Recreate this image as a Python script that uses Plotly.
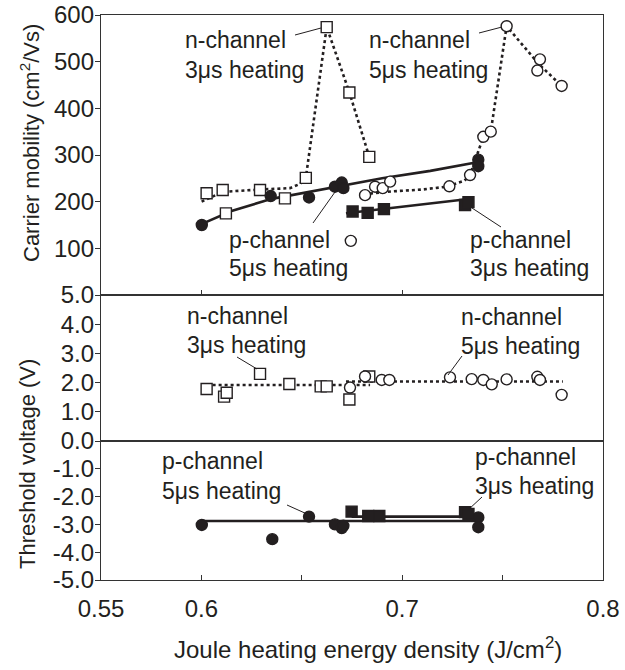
import plotly.graph_objects as go

# ---------------- data ----------------
# Joule heating energy density (J/cm2) and carrier mobility (cm2/Vs)
n3_x = [0.6026, 0.6106, 0.6122, 0.6292, 0.6416, 0.6520, 0.6624, 0.6737, 0.6836]
n3_mu = [218, 225, 175, 225, 207, 251, 574, 434, 296]
n3_fit_x = [0.6001, 0.6106, 0.6292, 0.6441, 0.6491, 0.6520, 0.6624, 0.6737, 0.6836]
n3_fit_mu = [200, 221, 226, 229, 238, 251, 574, 434, 296]

n5_x = [0.6744, 0.6815, 0.6865, 0.6903, 0.6940, 0.7235, 0.7338, 0.7404, 0.7441, 0.7520, 0.7673, 0.7686, 0.7794]
n5_mu = [116, 214, 232, 229, 243, 233, 257, 339, 350, 576, 481, 505, 448]
n5_fit_x = [0.681, 0.695, 0.710, 0.722, 0.731, 0.7338, 0.7404, 0.7441, 0.7520, 0.768, 0.7794]
n5_fit_mu = [216, 222, 226, 232, 245, 257, 339, 350, 576, 495, 448]

p5_x = [0.6002, 0.6345, 0.6536, 0.6665, 0.6699, 0.6707, 0.7379, 0.7379]
p5_mu = [150, 212, 209, 232, 241, 229, 290, 276]
p5_fit_x = [0.600, 0.615, 0.635, 0.660, 0.690, 0.714, 0.738]
p5_fit_mu = [152, 180, 206, 226, 250, 266, 285]

p3_x = [0.6753, 0.6828, 0.6909, 0.7313, 0.7330]
p3_mu = [179, 176, 184, 193, 199]
p3_fit_x = [0.672, 0.732]
p3_fit_mu = [175, 205]

# threshold voltage (V)
n3_vx = [0.6026, 0.6113, 0.6126, 0.6292, 0.6438, 0.6594, 0.6624, 0.6737, 0.6836]
n3_vth = [1.78, 1.52, 1.65, 2.30, 1.95, 1.87, 1.87, 1.42, 2.21]
n3_vfit_x = [0.6026, 0.684]
n3_vfit = [1.92, 1.92]

n5_vx = [0.6740, 0.6815, 0.6898, 0.6936, 0.7238, 0.7346, 0.7404, 0.7446, 0.7520, 0.7673, 0.7686, 0.7794]
n5_vth = [1.83, 2.21, 2.09, 2.09, 2.18, 2.12, 2.09, 1.94, 2.11, 2.20, 2.09, 1.58]
n5_vfit_x = [0.672, 0.780]
n5_vfit = [2.04, 2.04]

p5_vx = [0.6002, 0.6353, 0.6536, 0.6665, 0.6699, 0.6707, 0.7379, 0.7379]
p5_vth = [-3.02, -3.53, -2.72, -3.00, -3.13, -3.05, -2.75, -3.10]
p5_vfit_x = [0.600, 0.738]
p5_vfit = [-2.88, -2.88]

p3_vx = [0.6748, 0.6831, 0.6886, 0.7313, 0.7330]
p3_vth = [-2.54, -2.70, -2.70, -2.56, -2.62]
p3_vfit_x = [0.6748, 0.733]
p3_vfit = [-2.72, -2.72]

mu_ticks = [100, 200, 300, 400, 500, 600]
vth_top_ticks = [0, 1, 2, 3, 4, 5]
vth_top_text = ["0.0", "1.0", "2.0", "3.0", "4.0", "5.0"]
vth_bot_ticks = [-5, -4, -3, -2, -1]
vth_bot_text = ["-5.0", "-4.0", "-3.0", "-2.0", "-1.0"]
x_ticks = [0.55, 0.6, 0.7, 0.8]
x_text = ["0.55", "0.6", "0.7", "0.8"]
x_minor_ticks = [0.65, 0.75]

# ---------------- figure ----------------
INK = "#231f20"
FONT = "Liberation Sans, Arial, Helvetica, sans-serif"
FS_TICK = 24
FS_LAB = 23
FS_TITLE = 22
W, H = 625, 670
PLOT_L, PLOT_R, PLOT_T, PLOT_B = 101, 603, 15, 580   # plot area in page pixels
L, T = PLOT_L, PLOT_T
R, B = W - PLOT_R, H - PLOT_B
PW, PH = PLOT_R - PLOT_L, PLOT_B - PLOT_T


def PX(x):
    return (x - PLOT_L) / PW


def PY(y):
    return (PLOT_B - y) / PH


d_top = [PY(295), 1.0]
d_mid = [PY(441), PY(295)]
d_bot = [0.0, PY(441)]

fig = go.Figure()


def line(x, y, xa, ya, dash):
    fig.add_trace(go.Scatter(x=x, y=y, xaxis=xa, yaxis=ya, mode="lines",
                             line=dict(color=INK, width=2.6, dash=dash),
                             hoverinfo="skip", showlegend=False))


def pts(x, y, xa, ya, symbol, filled):
    fig.add_trace(go.Scatter(x=x, y=y, xaxis=xa, yaxis=ya, mode="markers",
                             marker=dict(symbol=symbol, size=11,
                                         color=INK if filled else "white",
                                         line=dict(color=INK, width=1.4)),
                             showlegend=False))


# top panel: mobility
line(n3_fit_x, n3_fit_mu, "x", "y", "dot")
line(n5_fit_x, n5_fit_mu, "x", "y", "dot")
line(p5_fit_x, p5_fit_mu, "x", "y", "solid")
line(p3_fit_x, p3_fit_mu, "x", "y", "solid")
pts(n3_x, n3_mu, "x", "y", "square", False)
pts(n5_x, n5_mu, "x", "y", "circle", False)
pts(p5_x, p5_mu, "x", "y", "circle", True)
pts(p3_x, p3_mu, "x", "y", "square", True)

# middle panel: n-channel Vth
line(n3_vfit_x, n3_vfit, "x2", "y2", "dot")
line(n5_vfit_x, n5_vfit, "x2", "y2", "dot")
pts(n3_vx, n3_vth, "x2", "y2", "square", False)
pts(n5_vx, n5_vth, "x2", "y2", "circle", False)

# bottom panel: p-channel Vth
line(p5_vfit_x, p5_vfit, "x3", "y3", "solid")
line(p3_vfit_x, p3_vfit, "x3", "y3", "solid")
pts(p5_vx, p5_vth, "x3", "y3", "circle", True)
pts(p3_vx, p3_vth, "x3", "y3", "square", True)

axis_common = dict(showline=True, linecolor="#333333", linewidth=1.4, mirror=True,
                   showgrid=False, zeroline=False, automargin=False,
                   ticklabeloverflow="allow",
                   tickfont=dict(family=FONT, size=FS_TICK, color=INK),
                   tickcolor="#333333", tickwidth=1.2)

fig.update_layout(
    width=W, height=H,
    margin=dict(l=L, r=R, t=T, b=B, autoexpand=False),
    paper_bgcolor="white", plot_bgcolor="white",
    font=dict(family=FONT, size=FS_LAB, color=INK),
    showlegend=False,
    xaxis=dict(axis_common, domain=[0, 1], anchor="y", range=[0.55, 0.8],
               tickvals=[0.6, 0.7], ticks="inside", ticklen=5, showticklabels=False),
    xaxis2=dict(axis_common, domain=[0, 1], anchor="y2", range=[0.55, 0.8],
                ticks="", showticklabels=False, matches="x"),
    xaxis3=dict(axis_common, domain=[0, 1], anchor="y3", range=[0.55, 0.8],
                tickvals=x_ticks, ticktext=x_text, ticks="inside", ticklen=5,
                ticklabelstandoff=7,
                minor=dict(tickvals=x_minor_ticks, ticks="inside", ticklen=5,
                           tickcolor="#333333", tickwidth=1.2),
                matches="x"),
    yaxis=dict(axis_common, domain=d_top, anchor="x", range=[0, 600],
               tickvals=mu_ticks, ticks="outside", ticklen=5, ticklabelstandoff=-4),
    yaxis2=dict(axis_common, domain=d_mid, anchor="x2", range=[0, 5],
                tickvals=vth_top_ticks, ticktext=vth_top_text, ticks="outside", ticklen=5,
                ticklabelstandoff=-4),
    yaxis3=dict(axis_common, domain=d_bot, anchor="x3", range=[-5, 0],
                tickvals=vth_bot_ticks, ticktext=vth_bot_text, ticks="outside", ticklen=5,
                ticklabelstandoff=-4),
)

# axis titles
fig.add_annotation(text="Carrier mobility (cm<sup>2</sup>/Vs)", xref="paper", yref="paper",
                   x=PX(30), y=PY(143), textangle=-90, showarrow=False,
                   xanchor="center", yanchor="middle", font=dict(size=FS_TITLE))
fig.add_annotation(text="Threshold voltage (V)", xref="paper", yref="paper",
                   x=PX(28), y=PY(464), textangle=-90, showarrow=False,
                   xanchor="center", yanchor="middle", font=dict(size=FS_TITLE))
fig.add_annotation(text="Joule heating energy density (J/cm<sup>2</sup>)", xref="paper", yref="paper",
                   x=PX(368), y=PY(648), showarrow=False,
                   xanchor="center", yanchor="middle", font=dict(size=FS_TICK))

# panel labels (left-aligned text lines)
labels = [
    ("n-channel", 183, 40), ("3\u03bcs heating", 183, 70),
    ("n-channel", 367, 40), ("5\u03bcs heating", 367, 70),
    ("p-channel", 227, 240), ("5\u03bcs heating", 227, 268),
    ("p-channel", 468, 240), ("3\u03bcs heating", 468, 268),
    ("n-channel", 185, 316), ("3\u03bcs heating", 185, 345),
    ("n-channel", 459, 317), ("5\u03bcs heating", 459, 346),
    ("p-channel", 160, 461), ("5\u03bcs heating", 160, 491),
    ("p-channel", 473, 457), ("3\u03bcs heating", 473, 486),
]
for txt, px, py in labels:
    fig.add_annotation(text=txt, xref="paper", yref="paper", x=PX(px), y=PY(py),
                       showarrow=False, xanchor="left", yanchor="middle",
                       font=dict(size=FS_LAB, color=INK))

leaders = [
    (295, 35, 321, 28), (479, 33, 502, 27), (313, 223, 335, 192), (472, 208, 501, 227),
    (237, 357, 257, 369), (462, 356, 448, 375),
    (287, 505, 307, 514), (482, 497, 468, 510),
]
for x0, y0, x1, y1 in leaders:
    fig.add_shape(type="line", xref="paper", yref="paper",
                  x0=PX(x0), y0=PY(y0), x1=PX(x1), y1=PY(y1),
                  line=dict(color=INK, width=1))

# the page's default 8px body margin would shift the figure; remove it
fig.write_html("out.html", config={"displayModeBar": False},
               post_script="document.body.style.margin='0px';")
